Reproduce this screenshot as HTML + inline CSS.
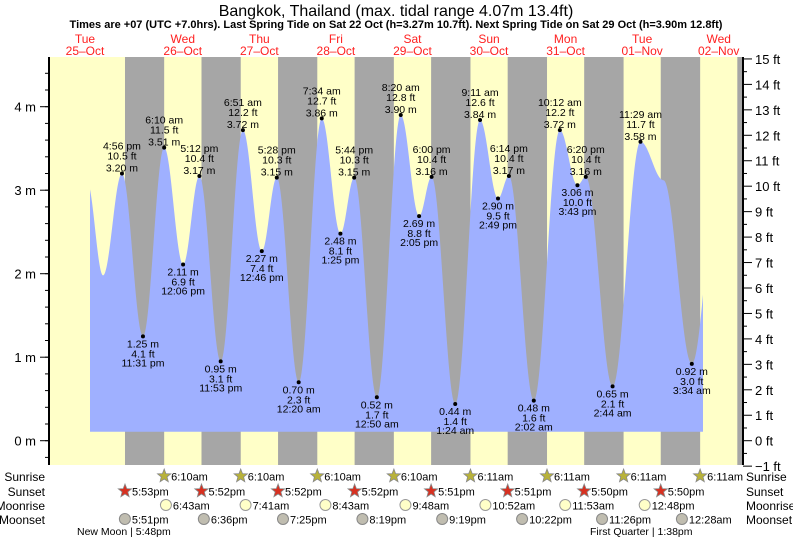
<!DOCTYPE html>
<html><head><meta charset="utf-8"><style>
html,body{margin:0;padding:0;background:#fff;}
svg{display:block;font-family:"Liberation Sans",sans-serif;}
</style></head><body>
<svg id="chart" width="793" height="539" viewBox="0 0 793 539">
<text x="396" y="16" text-anchor="middle" font-size="16" fill="#000">Bangkok, Thailand (max. tidal range 4.07m 13.4ft)</text>
<text x="396" y="28" text-anchor="middle" font-size="11" font-weight="bold" fill="#000">Times are +07 (UTC +7.0hrs). Last Spring Tide on Sat 22 Oct (h=3.27m 10.7ft). Next Spring Tide on Sat 29 Oct (h=3.90m 12.8ft)</text>
<g id="bands"></g>
<g id="tide"></g>
<g id="axes"></g>
<g id="labels"></g>
<g id="days"></g>
<g id="astro"></g>
</svg>
<script>
// ---- data ----
const dayNames = ["Tue","Wed","Thu","Fri","Sat","Sun","Mon","Tue","Wed"];
const dayDates = ["25-Oct","26-Oct","27-Oct","28-Oct","29-Oct","30-Oct","31-Oct","01-Nov","02-Nov"];
// tide extremes: day index (0 = 25-Oct), time, height (m), labelled?
const tideDays = [0,0,0,0,1,1,1,1,2,2,2,3,3,3,3,4,4,4,4,5,5,5,5,6,6,6,6,7,7,7,8,8];
const tideTimes = ["6:00 am","11:00 am","4:56 pm","11:31 pm","6:10 am","12:06 pm","5:12 pm","11:53 pm","6:51 am","12:46 pm","5:28 pm","12:20 am","7:34 am","1:25 pm","5:44 pm","12:50 am","8:20 am","2:05 pm","6:00 pm","1:24 am","9:11 am","2:49 pm","6:14 pm","2:02 am","10:12 am","3:43 pm","6:20 pm","2:44 am","11:29 am","6:40 pm","3:34 am","12:30 pm"];
const tideHeights = [3.10,1.98,3.20,1.25,3.51,2.11,3.17,0.95,3.72,2.27,3.15,0.70,3.86,2.48,3.15,0.52,3.90,2.69,3.16,0.44,3.84,2.90,3.17,0.48,3.72,3.06,3.16,0.65,3.58,3.12,0.92,3.40];
const tideLabelled = [0,0,1,1,1,1,1,1,1,1,1,1,1,1,1,1,1,1,1,1,1,1,1,1,1,1,1,1,1,0,1,0];
const sunriseTimes = ["6:10am","6:10am","6:10am","6:10am","6:11am","6:11am","6:11am","6:11am"]; // 26-Oct .. 02-Nov
const sunsetTimes = ["5:53pm","5:52pm","5:52pm","5:52pm","5:51pm","5:51pm","5:50pm","5:50pm"]; // 25-Oct .. 01-Nov
const moonriseTimes = ["6:43am","7:41am","8:43am","9:48am","10:52am","11:53am","12:48pm"]; // 26-Oct .. 01-Nov
const moonsetTimes = ["5:51pm","6:36pm","7:25pm","8:19pm","9:19pm","10:22pm","11:26pm","12:28am"]; // 25-Oct .. 02-Nov
const moonsetDays = [0,1,2,3,4,5,6,8];
const leftTicks = [0,1,2,3,4];
const rightTicks = [-1,0,1,2,3,4,5,6,7,8,9,10,11,12,13,14,15];

// ---- scales ----
const NS="http://www.w3.org/2000/svg";
const PX_H=3.19, X_MID26=144.5, Y0=440.7, PX_M=83.5;
const PL=49, PR=743, PT=57, PB=465, FILL_L=90, FILL_R=703, FILL_B=431.7;
function parseT(s){const m=s.trim().match(/(\d+):(\d+)\s*(am|pm)/);let h=+m[1]%12;if(m[3]=="pm")h+=12;return h+ +m[2]/60;}
function hrs(day,t){return (day-1)*24+parseT(t);}
function xs(h){return X_MID26+h*PX_H;}
function ys(m){return Y0-m*PX_M;}
function mk(tag,attrs,parent,text){const e=document.createElementNS(NS,tag);for(const k in attrs)e.setAttribute(k,attrs[k]);if(text!==undefined)e.textContent=text;parent.appendChild(e);return e;}
const G=id=>document.getElementById(id);

// ---- bands ----
const bands=G('bands');
let b=mk('rect',{x:PL,y:PT,width:PR-PL,height:PB-PT,fill:'#ffffc8'},bands);


for(let i=0;i<sunsetTimes.length;i++){
  const x1=xs(hrs(i,sunsetTimes[i]));
  const x2=Math.min(PR,xs(hrs(i+1,sunriseTimes[i])));
  const r=mk('rect',{x:x1,y:PT,width:x2-x1,height:PB-PT,fill:'#a6a6a6'},bands);
  
  
}
const lastSet=xs(hrs(8,"5:50 pm"));
b=mk('rect',{x:lastSet,y:PT,width:PR-lastSet,height:PB-PT,fill:'#a6a6a6'},bands);



// ---- tide curve ----
const H=tideDays.map((d,i)=>hrs(d,tideTimes[i]));
function level(h){
  for(let i=0;i<H.length-1;i++){if(h>=H[i]&&h<=H[i+1]){const f=(h-H[i])/(H[i+1]-H[i]);return tideHeights[i]+(tideHeights[i+1]-tideHeights[i])*(1-Math.cos(Math.PI*f))/2;}}
  return tideHeights[h<H[0]?0:H.length-1];
}
let pts=[[FILL_L,FILL_B]];
for(let x=FILL_L;x<=FILL_R;x+=0.5){pts.push([x,ys(level((x-X_MID26)/PX_H))]);}
pts.push([FILL_R,FILL_B]);
const poly=mk('polygon',{points:pts.map(p=>p[0].toFixed(1)+','+p[1].toFixed(1)).join(' '),fill:'#9fb0ff'},G('tide'));



// ---- tide labels ----
const lab=G('labels');
for(let i=0;i<H.length;i++){
  if(!tideLabelled[i])continue;
  const x=xs(H[i]),y=ys(tideHeights[i]);
  const high=(i>0&&tideHeights[i]>tideHeights[i-1]);
  const d=mk('circle',{cx:x,cy:y,r:2,fill:'#000'},lab);
  
  
  const ft=(tideHeights[i]*3.2808).toFixed(1)+' ft';
  const m=tideHeights[i].toFixed(2)+' m';
  const lines=high?[[tideTimes[i],-24],[ft,-14],[m,-2]]:[[m,11],[ft,21],[tideTimes[i],30]];
  for(const [t,dy] of lines){
    const e=mk('text',{x:x,y:y+dy,'text-anchor':'middle','font-size':10.5,fill:'#000'},lab,t);
    
    
  }
}

// ---- axes ----
const ax=G('axes');
let l=mk('line',{x1:PL,y1:PT,x2:PL,y2:PB,stroke:'#000','stroke-width':2},ax);


l=mk('line',{x1:PR,y1:PT,x2:PR,y2:PB,stroke:'#000','stroke-width':2},ax);


for(let v=-0.2;v<=4.6;v+=0.2){const y=ys(v);if(y<PT||y>PB)continue;mk('line',{x1:PL-4,y1:y,x2:PL,y2:y,stroke:'#000','stroke-width':1},ax);}
leftTicks.forEach(v=>{const y=ys(v);mk('line',{x1:PL-9,y1:y,x2:PL,y2:y,stroke:'#000'},ax);
  const t=mk('text',{x:36,y:y+5,'text-anchor':'end','font-size':13,fill:'#000'},ax,v+' m');
  
  });
for(let f=-1;f<=15;f+=0.5){const y=ys(f*0.3048);mk('line',{x1:PR,y1:y,x2:PR+(f%1===0?9:4),y2:y,stroke:'#000'},ax);}
rightTicks.forEach(f=>{const y=ys(f*0.3048);
  const t=mk('text',{x:755,y:y+5,'font-size':13,fill:'#000'},ax,(f<0?'\u22121':f)+' ft');
  
  });

// ---- day labels ----
const dg=G('days');
dayNames.forEach((n,i)=>{
  let x=xs((i-1)*24+12); if(i===0)x=85;
  const a=mk('text',{x:x,y:43,'text-anchor':'middle','font-size':12,fill:'#ff2020'},dg,n);
  
  
  const c=mk('text',{x:x,y:55,'text-anchor':'middle','font-size':12,fill:'#ff2020'},dg,dayDates[i].replace('-','\u2013'));
  
  
});

// ---- astro rows ----
const as=G('astro');
const rows=[["Sunrise",476],["Sunset",491],["Moonrise",505],["Moonset",519]];
rows.forEach(([n,y])=>{
  const a=mk('text',{x:45,y:y+5,'text-anchor':'end','font-size':12,fill:'#000'},as,n);
  
  
  const c=mk('text',{x:746,y:y+5,'font-size':12,fill:'#000'},as,n);
  
  
});
function star(cx,cy,fill,stroke){let p=[];for(let k=0;k<10;k++){const r=k%2?3:7,a=-Math.PI/2+k*Math.PI/5;p.push((cx+r*Math.cos(a)).toFixed(1)+','+(cy+r*Math.sin(a)).toFixed(1));}return mk('polygon',{points:p.join(' '),fill:fill,stroke:stroke,'stroke-width':0.8},as);}
function tlabel(x,y,t){const e=mk('text',{x:x+7,y:y+4.5,'font-size':11,fill:'#000'},as,t);}
sunriseTimes.forEach((t,i)=>{const x=xs(hrs(i+1,t));const s=star(x,476,'#b8b23a','#888');tlabel(x,476,t);});
sunsetTimes.forEach((t,i)=>{const x=xs(hrs(i,t));const s=star(x,491,'#d83020','#888');tlabel(x,491,t);});
moonriseTimes.forEach((t,i)=>{const x=xs(hrs(i+1,t));const c=mk('circle',{cx:x,cy:505,r:5.5,fill:'#ffffc8',stroke:'#999'},as);tlabel(x,505,t);});
moonsetTimes.forEach((t,i)=>{const x=xs(hrs(moonsetDays[i],t));const c=mk('circle',{cx:x,cy:519,r:5.5,fill:'#c0bdb0',stroke:'#888'},as);tlabel(x,519,t);});
let m1=mk('text',{x:77,y:535,'font-size':10.5,fill:'#000'},as,'New Moon | 5:48pm');


let m2=mk('text',{x:590,y:535,'font-size':10.5,fill:'#000'},as,'First Quarter | 1:38pm');


</script>
</body></html>
